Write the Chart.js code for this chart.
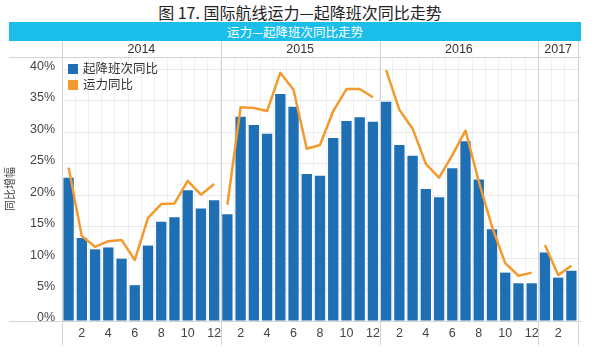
<!DOCTYPE html>
<html>
<head>
<meta charset="utf-8">
<script src="https://cdn.jsdelivr.net/npm/chart.js@4/dist/chart.umd.min.js"></script>
<style>
  html, body { margin: 0; padding: 0; background: #fff; width: 600px; height: 355px; overflow: hidden; }
  #title { position: absolute; left: 0; top: 2px; width: 600px; text-align: center;
           font: 16px "Noto Sans CJK SC", sans-serif; color: #222; line-height: 20px; }
  #band { position: absolute; left: 9px; top: 22px; width: 572px; height: 19px; background: #1bbde9;
          color: #fff; text-align: center; font: 12.5px "Noto Sans CJK SC", sans-serif; line-height: 19px; }
  #wrap { position: absolute; left: 0; top: 41px; width: 600px; height: 314px; }
  #legend { position: absolute; left: 68px; top: 60px; font: 12.5px "Noto Sans CJK SC", sans-serif; color: #333; }
  #legend div { height: 16px; line-height: 16px; white-space: nowrap; }
  #legend span.sw { display: inline-block; width: 10px; height: 10px; margin-right: 5px; vertical-align: -1px; }
</style>
</head>
<body>
<div id="title">图 17. 国际航线运力—起降班次同比走势</div>
<div id="band">运力—起降班次同比走势</div>
<div id="wrap"><canvas id="c"></canvas></div>
<div id="legend"></div>
<script>
// ---- data (year-over-year growth, %) ----
const years = ['2014', '2015', '2016', '2017'];
const months2014 = [1, 2, 3, 4, 5, 6, 7, 8, 9, 10, 11, 12];
const months2015 = [1, 2, 3, 4, 5, 6, 7, 8, 9, 10, 11, 12];
const months2016 = [1, 2, 3, 4, 5, 6, 7, 8, 9, 10, 11, 12];
const months2017 = [1, 2, 3];
const flights2014 = [22.8, 13.2, 11.4, 11.7, 9.9, 5.7, 12.0, 15.8, 16.5, 20.8, 17.9, 19.2];
const flights2015 = [17.0, 32.5, 31.2, 29.8, 36.1, 34.1, 23.4, 23.1, 29.1, 31.8, 32.4, 31.7];
const flights2016 = [34.9, 28.0, 26.3, 21.0, 19.7, 24.3, 28.6, 22.5, 14.6, 7.7, 6.0, 6.0];
const flights2017 = [10.9, 6.9, 8.0];
const capacity2014 = [24.4, 13.5, 11.8, 12.7, 12.9, 9.7, 16.4, 18.6, 18.7, 22.3, 20.1, 21.8];
const capacity2015 = [18.5, 34.0, 33.9, 33.4, 39.5, 36.8, 27.4, 28.0, 33.4, 36.9, 36.9, 35.6];
const capacity2016 = [39.9, 33.6, 30.6, 25.0, 22.8, 26.4, 30.3, 22.2, 15.0, 9.2, 7.2, 7.7];
const capacity2017 = [12.1, 7.3, 8.8];
const yTicks = [0, 5, 10, 15, 20, 25, 30, 35, 40];
const seriesNames = ['起降班次同比', '运力同比'];
const yTitle = '同比增幅';

// ---- assembled tables ----
const monthGroups = [months2014, months2015, months2016, months2017];
const labels = [].concat(...monthGroups);
const flights = [].concat(flights2014, flights2015, flights2016, flights2017);
const capacity = [].concat(capacity2014, capacity2015, capacity2016, capacity2017);
const yearEnds = [];
{ let n = 0; monthGroups.forEach(g => { n += g.length; yearEnds.push(n - 1); }); }

const BLUE = '#1f6fb4';
const ORANGE = '#f39a2f';
const LINEC = '#d4d4d4';
const FONT = '"Liberation Sans", Arial, sans-serif';
const CJK = '"Noto Sans CJK SC", sans-serif';

// HTML legend
const legendEl = document.getElementById('legend');
[[seriesNames[0], BLUE], [seriesNames[1], ORANGE]].forEach(([name, col]) => {
  const row = document.createElement('div');
  const sw = document.createElement('span');
  sw.className = 'sw'; sw.style.background = col;
  row.appendChild(sw);
  row.appendChild(document.createTextNode(name));
  legendEl.appendChild(row);
});

const headerPlugin = {
  id: 'yearHeader',
  beforeDatasetsDraw(chart) {
    const { ctx, chartArea: ca, scales: { x } } = chart;
    const headTop = 0, headBot = ca.top, bottom = ca.bottom + 24;
    const bounds = [ca.left];
    yearEnds.forEach((e, i) => {
      if (i < yearEnds.length - 1) bounds.push((x.getPixelForValue(e) + x.getPixelForValue(e + 1)) / 2);
    });
    bounds.push(ca.right);
    ctx.save();
    ctx.strokeStyle = LINEC;
    ctx.lineWidth = 1;
    ctx.beginPath();
    ctx.moveTo(9, Math.round(headBot) + 0.5); ctx.lineTo(581, Math.round(headBot) + 0.5);
    ctx.moveTo(9, Math.round(ca.bottom) + 0.5); ctx.lineTo(581, Math.round(ca.bottom) + 0.5);
    bounds.forEach(b => { ctx.moveTo(Math.round(b) + 0.5, headTop); ctx.lineTo(Math.round(b) + 0.5, bottom); });
    ctx.stroke();
    ctx.fillStyle = '#333';
    ctx.font = '12.5px ' + FONT;
    ctx.textAlign = 'center';
    ctx.textBaseline = 'middle';
    years.forEach((y, i) => ctx.fillText(y, (bounds[i] + bounds[i + 1]) / 2, (headTop + headBot) / 2 + 1));
    ctx.restore();
  }
};

new Chart(document.getElementById('c'), {
  data: {
    labels: labels,
    datasets: [
      {
        type: 'bar', label: seriesNames[0], data: flights, order: 1,
        backgroundColor: BLUE, borderWidth: 0,
        barPercentage: 0.78, categoryPercentage: 1.0
      },
      {
        type: 'line', label: seriesNames[1], data: capacity, order: 0,
        borderColor: ORANGE, backgroundColor: ORANGE, borderWidth: 2.5,
        pointRadius: 0, tension: 0, borderJoinStyle: 'round',
        segment: {
          borderColor: c => yearEnds.includes(c.p0DataIndex) ? 'rgba(0,0,0,0)' : ORANGE
        }
      }
    ]
  },
  options: {
    responsive: true,
    maintainAspectRatio: false,
    animation: false,
    layout: { padding: { top: 16, right: 22, bottom: 0, left: 0 } },
    plugins: {
      tooltip: { enabled: false },
      legend: { display: false }
    },
    scales: {
      x: {
        type: 'category',
        grid: { offset: true, color: '#f1f1f1', drawTicks: false },
        border: { display: false },
        ticks: {
          autoSkip: false, maxRotation: 0, padding: 5, color: '#444',
          font: { family: FONT, size: 12.5 },
          callback: function (v, i) { const m = labels[i]; return m % 2 === 0 ? String(m) : ''; }
        },
        afterFit: s => { s.height = 34; }
      },
      y: {
        min: 0, max: 42,
        grid: { color: '#e9e9e9', drawTicks: false },
        border: { display: false },
        afterBuildTicks: s => { s.ticks = yTicks.map(v => ({ value: v })); },
        ticks: {
          padding: 7, color: '#444', labelOffset: -3,
          font: { family: FONT, size: 12.5 },
          callback: v => v + '%'
        },
        title: { display: true, text: yTitle, color: '#444', font: { family: CJK, size: 11 }, padding: { top: 3, bottom: 0 } },
        afterFit: s => { s.width = 62; }
      }
    }
  },
  plugins: [headerPlugin]
});
</script>
</body>
</html>
